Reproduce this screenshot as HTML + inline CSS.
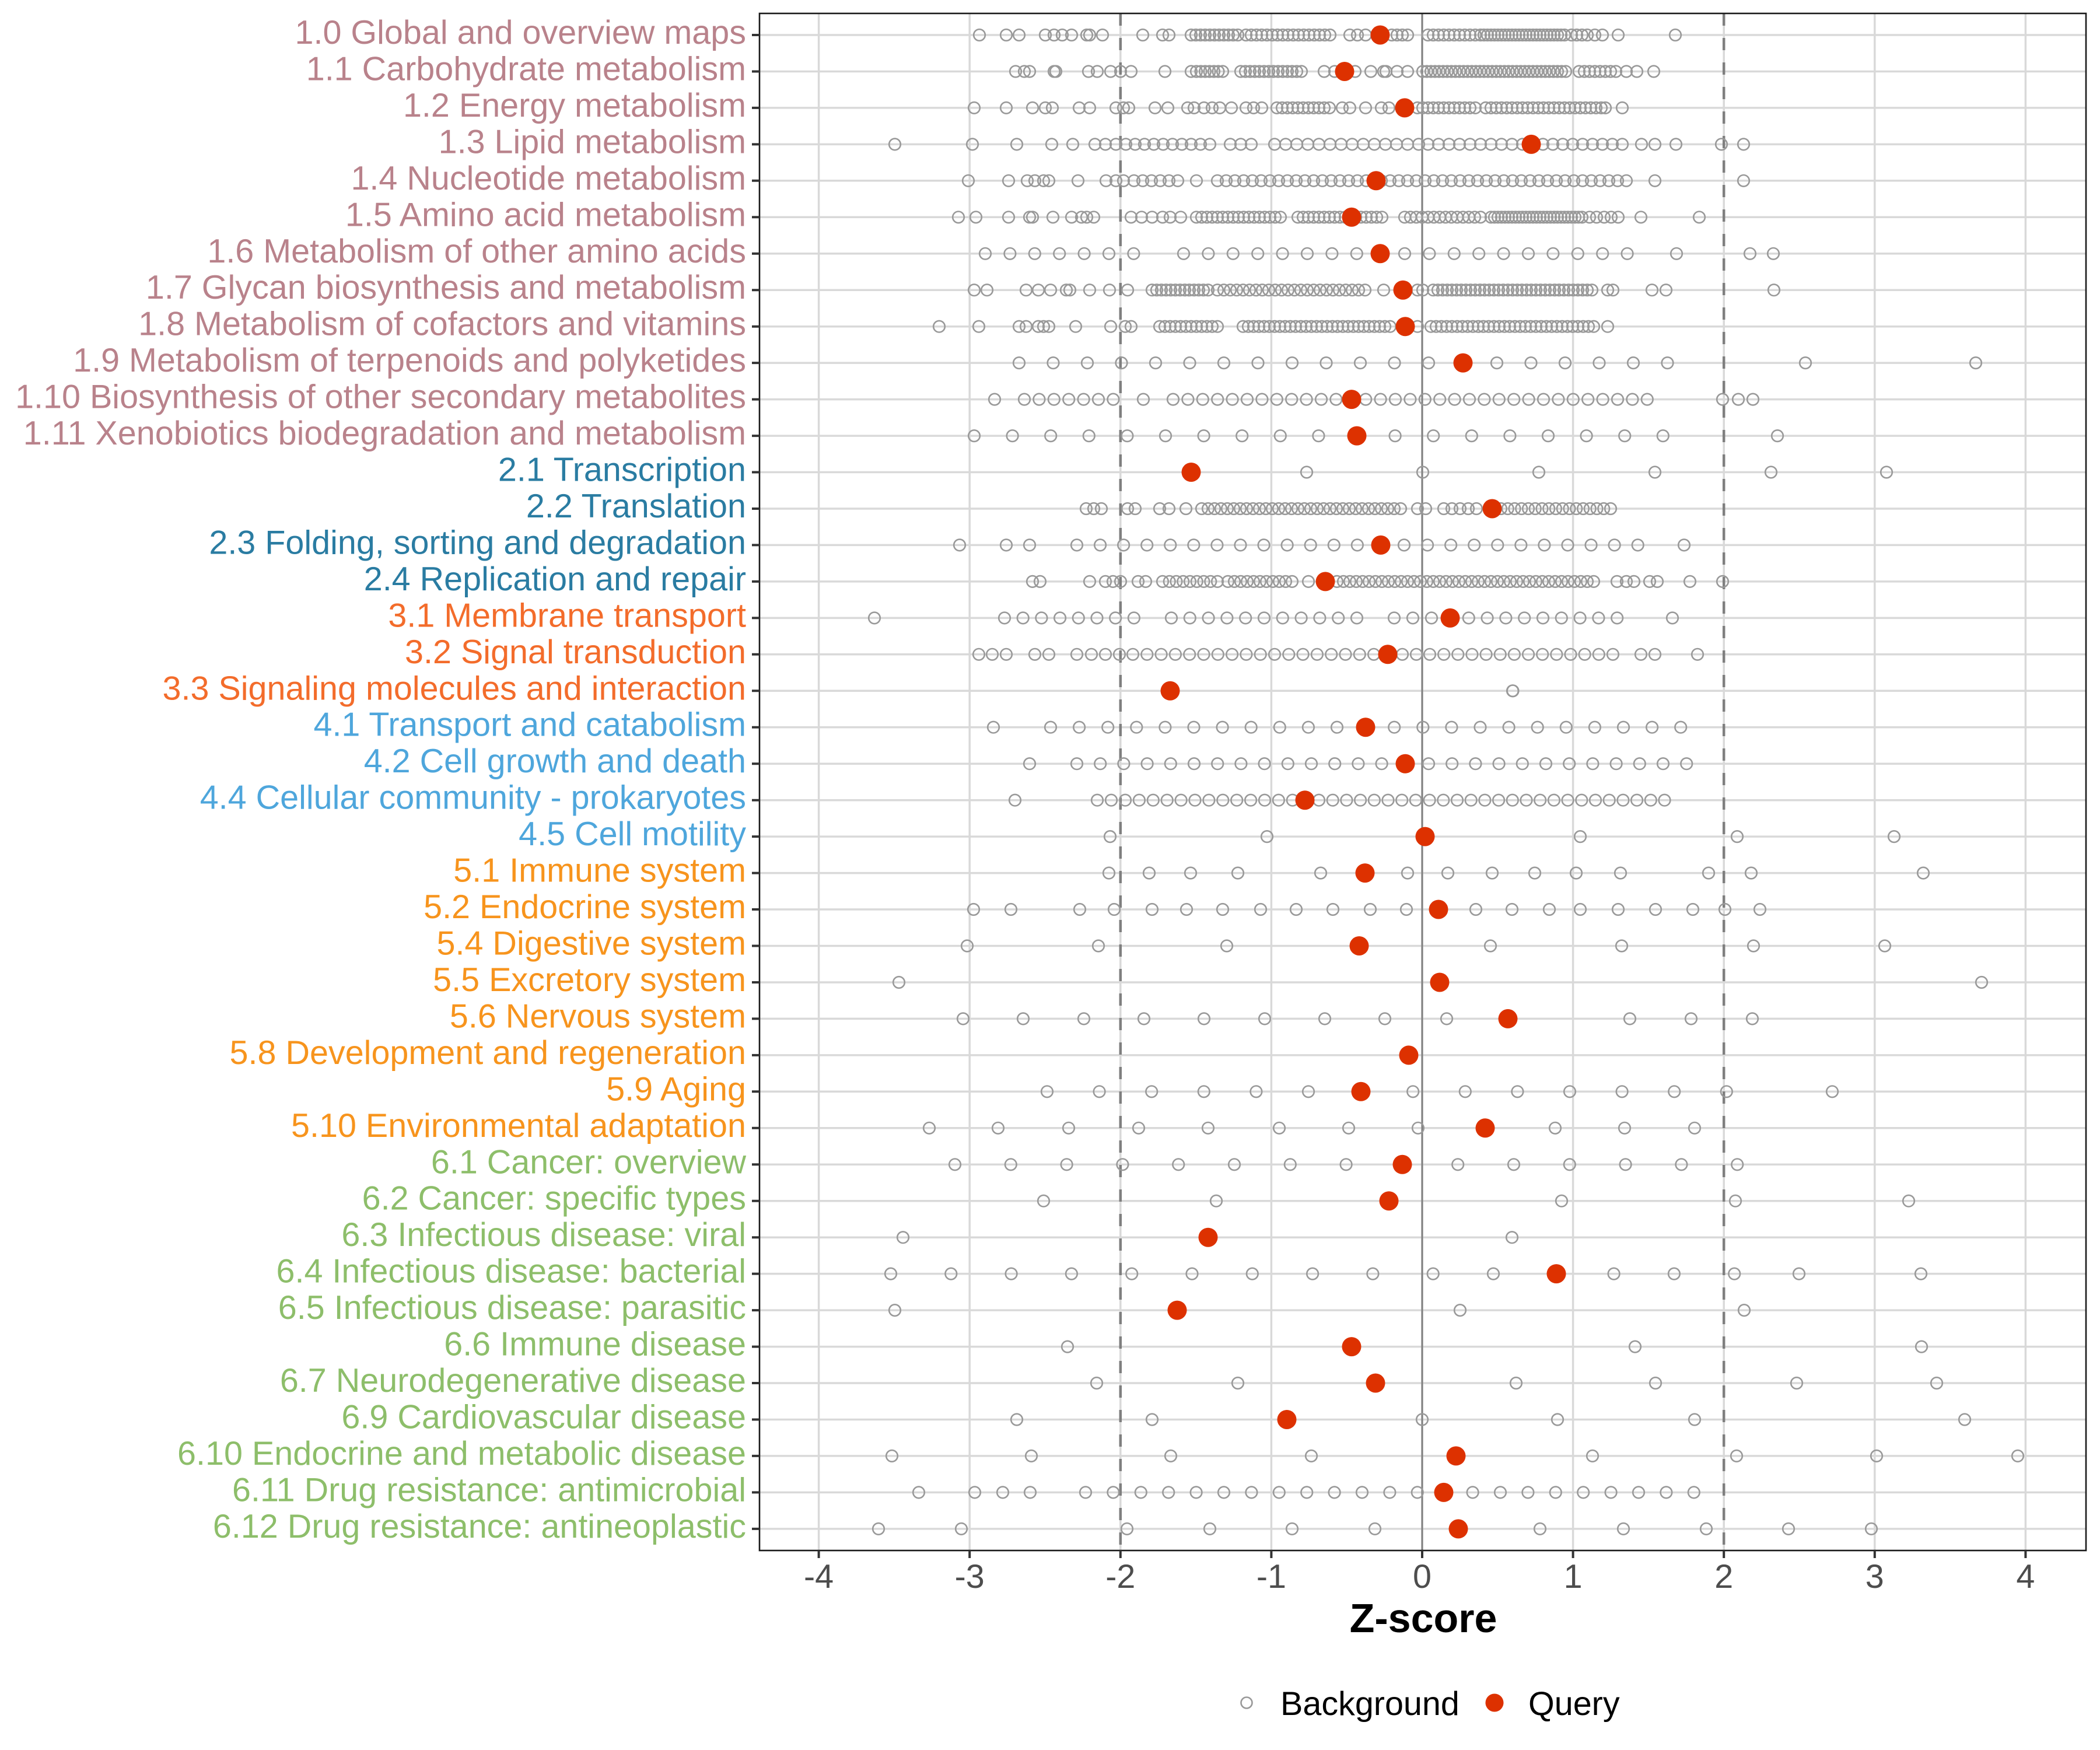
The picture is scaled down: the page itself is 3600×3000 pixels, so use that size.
<!DOCTYPE html>
<html>
<head>
<meta charset="utf-8">
<style>
html,body{margin:0;padding:0;background:#fff;}
body{width:3600px;height:3000px;overflow:hidden;}
svg{display:block;}
.yl{font-family:"Liberation Sans",Arial,sans-serif;font-size:57.5px;text-anchor:end;}
.xl{font-family:"Liberation Sans",Arial,sans-serif;font-size:57.5px;text-anchor:middle;fill:#4d4d4d;}
.g1{fill:#b9828b}.g2{fill:#2a7ca2}.g3{fill:#f36c2b}.g4{fill:#4ea6dc}.g5{fill:#f7941d}.g6{fill:#8dbe6a}
</style>
</head>
<body>
<svg width="3600" height="3000" viewBox="0 0 3600 3000" xmlns="http://www.w3.org/2000/svg">
<defs>
<marker id="o" viewBox="0 0 30 30" refX="15" refY="15" markerWidth="30" markerHeight="30" markerUnits="userSpaceOnUse" orient="0"><circle cx="15" cy="15" r="9.8" fill="none" stroke="#999999" stroke-width="2.6"/></marker>
</defs>
<rect x="0" y="0" width="3600" height="3000" fill="#fff"/>
<!-- horizontal gridlines -->
<path fill="none" stroke="#d9d9d9" stroke-width="3.5" d="M1302 60H3576M1302 122.5H3576M1302 184.9H3576M1302 247.4H3576M1302 309.8H3576M1302 372.3H3576M1302 434.8H3576M1302 497.2H3576M1302 559.7H3576M1302 622.1H3576M1302 684.6H3576M1302 747.1H3576M1302 809.5H3576M1302 872H3576M1302 934.4H3576M1302 996.9H3576M1302 1059.4H3576M1302 1121.8H3576M1302 1184.3H3576M1302 1246.7H3576M1302 1309.2H3576M1302 1371.7H3576M1302 1434.1H3576M1302 1496.6H3576M1302 1559H3576M1302 1621.5H3576M1302 1684H3576M1302 1746.4H3576M1302 1808.9H3576M1302 1871.3H3576M1302 1933.8H3576M1302 1996.3H3576M1302 2058.7H3576M1302 2121.2H3576M1302 2183.6H3576M1302 2246.1H3576M1302 2308.6H3576M1302 2371H3576M1302 2433.5H3576M1302 2495.9H3576M1302 2558.4H3576M1302 2620.9H3576"/>
<!-- vertical gridlines -->
<path fill="none" stroke="#d9d9d9" stroke-width="3.5" d="M1403.6 23V2658M1662.2 23V2658M1920.8 23V2658M2179.4 23V2658M2438 23V2658M2696.6 23V2658M2955.2 23V2658M3213.8 23V2658M3472.4 23V2658"/>
<!-- dashed lines -->
<path fill="none" stroke="#7f7f7f" stroke-width="4.5" stroke-dasharray="21 21" d="M1920.8 23V2658M2955.2 23V2658"/>
<!-- zero line -->
<path fill="none" stroke="#7f7f7f" stroke-width="3" d="M2438 23V2658"/>

<!-- background points -->
<g fill="none" stroke="none" marker-start="url(#o)" marker-mid="url(#o)" marker-end="url(#o)">
<path d="M1679 60H1725H1747H1792H1807H1821H1837H1863H1868H1890H1959H1993H2004H2042h8h8h8h8h8h8h8h8h8h8H2136h9h9h9h9h9h9h9h9h9h9h9h9h9h9h9h9H2314H2327H2341H2366H2386H2395H2404H2413H2448h9h9h9h9h9h9h9h9h9h9h6h6h6h6h6h6h6h6h6h6h6h6h6h6h6h6h6h6h6h6h6h6h6h6H2694H2703H2712H2721H2734H2747H2774H2872"/>
<path d="M1741 122.5H1756H1765H1807H1810H1866H1881H1904H1921H1939H1997H2042H2051h7.5h7.5h7.5h7.5h7.5h7.5H2127h8h8h8h8h8h8h8h8h8h8h8h8h8H2270H2288H2305H2323H2350H2372H2376H2395H2413H2439h7h7h7h7h7h7h7h7h7h7h7h7h7h7h7h7h7h7h7h7h7h7h7h7h7h7h7h7h7h7h7h7h7h7h7H2707h9h9h9h9h9h9h9H2788H2806H2835"/>
<path d="M1670 184.9H1725H1770H1792H1804H1850H1868H1913H1926H1935H1980H2002H2036H2047H2064H2078H2091H2111H2136H2149H2163H2189h9h9h9h9h9h9h9h9h9h9H2301H2314H2341H2368H2381H2408H2430h9h9h9h9h9h9h9h9h9h9h9H2547h9h9h9h9h9h9h9h9h9h9h9h9h9h9h9h9h9h9h9h9h9h9H2752H2781"/>
<path d="M1534 247.4H1667H1743H1803H1839H1877H1895H1913H1930h16h16h16h16h16h16h16h16h16H2109H2127H2145H2185h19h19h19h19h19h19h19h19h19h19h19h19h19H2448h18h18h18h18h18h18h18h18h18H2625H2645h17h17h17h17h17h17h17h17H2814H2837H2873H2951H2989"/>
<path d="M1660 309.8H1729H1761H1774H1789H1798H1848H1896H1913H1926H1944h15h15h15h15h15H2051H2087h15h15h15h15h15h15h15h15h15h15h15h15h15h15h15h15h15H2359H2368h15h15h15h15h15h15h15h15h15h15h15h15h15h15h15h15h15h15h15h15h15h15h15h15h15h15h15h15H2837H2989"/>
<path d="M1643 372.3H1673H1729H1765H1770H1805H1837H1854H1863H1875H1939H1957H1975H1993H2006H2024H2051h9h9h9h9h9h9h9h9h9h9h9h9h9h9h9h9H2225h9h9h9h9h9h9h9h9h9h9h9h9h9h9h9h9H2408h10h10h10h10h10h10h10h10h10h10h10h10h10H2556h6h6h6h6h6h6h6h6h6h6h6h6h6h6h6h6h6h6h6h6h6h6h6h6h6h6H2725H2737H2750H2762H2774H2813H2913"/>
<path d="M1689 434.8h42.4h42.4h42.4h42.4h42.4h42.4H2029h42.4h42.4h42.4h42.4h42.4h42.4h42.4H2366H2408h42.4h42.4h42.4h42.4h42.4h42.4h42.4h42.4h42.4H2874H3000H3040"/>
<path d="M1670 497.2H1692H1759H1780H1801H1828H1834H1868H1902H1933H1975h8h8h8h8h8h8h8h8h8h8h8h8H2087h11h11h11h11h11h11h11h11h11h11h11h11h11h11h11h11h11h11h11h11h11h11h11H2372H2405H2430H2439H2457h8h8h8h8h8h8h8h8h8h8h8h8h8h8h8h8h8h8h8h8h8h8h8h8h8h8h8h8h8h8h8h8h8h8H2756H2765H2832H2856H3041"/>
<path d="M1610 559.7H1678H1747H1759H1780H1789H1798H1844H1904H1929H1939H1988h9h9h9h9h9h9h9h9h9h9h9H2131h9h9h9h9h9h9h9h9h9h9h9h9h9h9h9h9h9h9h9h9h9h9h9h9h9h9h9h9H2409H2430H2453h9h9h9h9h9h9h9h9h9h9h9h9h9h9h9h9h9h9h9h9h9h9h9h9h9h9h9h9h9h9h9H2756"/>
<path d="M1747 622.1h58.5h58.5h58.5h58.5h58.5h58.5h58.5h58.5h58.5h58.5h58.5h58.5h58.5h58.5h58.5h58.5h58.5h58.5h58.5H3095H3387"/>
<path d="M1705 684.6H1756h25.4h25.4h25.4h25.4h25.4h25.4H1960H2011h25.4h25.4h25.4h25.4h25.4h25.4h25.4h25.4h25.4h25.4h25.4h25.4h25.4h25.4h25.4h25.4h25.4h25.4h25.4h25.4h25.4h25.4h25.4h25.4h25.4h25.4h25.4h25.4h25.4h25.4h25.4h25.4H2953H2980H3005"/>
<path d="M1670 747.1h65.6h65.6h65.6h65.6h65.6h65.6h65.6h65.6h65.6h65.6h65.6h65.6h65.6h65.6h65.6h65.6h65.6h65.6H3047"/>
<path d="M2240 809.5H2439H2638H2837H3036H3234"/>
<path d="M1862 872H1875H1888H1933H1946H1988H2004H2033H2060h11h11h11h11h11h11h11h11h11h11h11h11h11h11h11h11h11h11h11h11h11h11h11h11h11h11h11h11h11h11h11H2430H2444H2475H2489H2503H2517H2531H2558H2573h11.75h11.75h11.75h11.75h11.75h11.75h11.75h11.75h11.75h11.75h11.75h11.75h11.75h11.75h11.75h11.75"/>
<path d="M1645 934.4H1725H1765H1846h40.07h40.07h40.07h40.07h40.07h40.07h40.07h40.07h40.07h40.07h40.07h40.07h40.07h40.07h40.07h40.07h40.07h40.07h40.07h40.07h40.07h40.07h40.07h40.07H2887"/>
<path d="M1770 996.9H1783H1868H1895H1908H1921H1951H1964H1993h11.75h11.75h11.75h11.75h11.75h11.75h11.75h11.75H2105h11h11h11h11h11h11h11h11h11h11H2243H2272H2292h11h11h11h11h11h11h11h11h11h11h11h11h11h11h11h11h11h11h11h11h11h11h11h11h11h11h11h11h11h11h11h11h11h11h11h11h11h11h11h11H2772H2788H2801H2828H2841H2897H2953"/>
<path d="M1499 1059.4H1722h31.7h31.7h31.7h31.7h31.7h31.7h31.7H2008h31.8h31.8h31.8h31.8h31.8h31.8h31.8h31.8h31.8h31.8H2390h32h32h32h31.8h31.8h31.8h31.8h31.8h31.8h31.8h31.8h31.8H2867"/>
<path d="M1678 1121.8H1701H1725H1774H1798H1846H1871H1895H1919H1942h24.3h24.3h24.3h24.3h24.3h24.3h24.3h24.3h24.3h24.3h24.3h24.3h24.3h24.3h24.3h24.3h24.3h24.3H2404H2428H2451h24.15h24.15h24.15h24.15h24.15h24.15h24.15h24.15h24.15h24.15h24.15h24.15h24.15H2813H2837H2910"/>
<path d="M2593 1184.3H2593.5"/>
<path d="M1703 1246.7H1801h49.1h49.1h49.1h49.1h49.1h49.1h49.1h49.1h49.1h49.1h49.1h49.1h49.1h49.1h49.1h49.1h49.1h49.1h49.1h49.1h49.1h49.1"/>
<path d="M1765 1309.2H1846h40.2h40.2h40.2h40.2h40.2h40.2h40.2h40.2h40.2h40.2h40.2h40.2h40.2h40.2h40.2h40.2h40.2h40.2h40.2h40.2h40.2h40.2h40.2h40.2h40.2h40.2"/>
<path d="M1740 1371.7H1881H1905H1929h23.9h23.9h23.9h23.9h23.9h23.9h23.9h23.9h23.9h23.9h23.9h23.9H2237H2261h23.7h23.7h23.7h23.7h23.7h23.7h23.7h23.7h23.7h23.7h23.7h23.7h23.7h23.7h23.7h23.7h23.7h23.7h23.7h23.7h23.7h23.7h23.7h23.7h23.7"/>
<path d="M1903 1434.1H2172H2440H2709H2978H3247"/>
<path d="M1901 1496.6H1970H2041H2122H2264H2340H2413H2482H2558H2631H2702H2778H2929H3002H3297"/>
<path d="M1669 1559H1733H1851H1910H1975H2034H2096H2161H2222H2285H2349H2411H2466H2530H2592H2656H2709H2774H2838H2902H2957H3017"/>
<path d="M1658 1621.5H1883H2103H2330H2555H2780H3006H3231"/>
<path d="M1541 1684H3397"/>
<path d="M1651 1746.4H1754H1858H1961H2064H2168H2271H2374H2480H2585H2794H2899H3004"/>
<path d="M2415 1808.9H2415.5"/>
<path d="M1795 1871.3h89.6h89.6h89.6h89.6h89.6h89.6h89.6h89.6h89.6h89.6h89.6h89.6h89.6H3141"/>
<path d="M1593 1933.8H1711H1832H1952H2071H2193H2312H2431H2550H2666H2785H2905"/>
<path d="M1637 1996.3h95.8h95.8h95.8h95.8h95.8h95.8h95.8h95.8h95.8h95.8h95.8h95.8h95.8h95.8"/>
<path d="M1789 2058.7H2085H2381H2677H2975H3272"/>
<path d="M1548 2121.2H2071H2592"/>
<path d="M1527 2183.6h103.3h103.3h103.3h103.3h103.3h103.3h103.3h103.3h103.3h103.3h103.3h103.3h103.3h103.3H3084H3293"/>
<path d="M1534 2246.1H2018H2503H2990"/>
<path d="M1830 2308.6H2317H2803H3294"/>
<path d="M1880 2371H2122H2358H2599H2838H3080H3320"/>
<path d="M1743 2433.5H1975H2206H2438H2670H2905H3368"/>
<path d="M1529 2495.9H1768H2007H2248H2496H2730H2977H3217H3459"/>
<path d="M1575 2558.4H1671H1719H1766H1861h47.4h47.4h47.4h47.4h47.4h47.4h47.4h47.4h47.4h47.4h47.4h47.4h47.4h47.4h47.4h47.4h47.4h47.4h47.4h47.4h47.4h47.4"/>
<path d="M1506 2620.9H1648H1932H2074H2215H2357H2500H2640H2783H2925H3066H3208"/>
</g>

<!-- query points -->
<g fill="#dd3100">
<circle cx="2366" cy="60" r="16.5"/>
<circle cx="2305" cy="122.5" r="16.5"/>
<circle cx="2408" cy="184.9" r="16.5"/>
<circle cx="2625" cy="247.4" r="16.5"/>
<circle cx="2359" cy="309.8" r="16.5"/>
<circle cx="2317" cy="372.3" r="16.5"/>
<circle cx="2366" cy="434.8" r="16.5"/>
<circle cx="2405" cy="497.2" r="16.5"/>
<circle cx="2409" cy="559.7" r="16.5"/>
<circle cx="2508" cy="622.1" r="16.5"/>
<circle cx="2317" cy="684.6" r="16.5"/>
<circle cx="2326" cy="747.1" r="16.5"/>
<circle cx="2042" cy="809.5" r="16.5"/>
<circle cx="2558" cy="872" r="16.5"/>
<circle cx="2367" cy="934.4" r="16.5"/>
<circle cx="2272" cy="996.9" r="16.5"/>
<circle cx="2486" cy="1059.4" r="16.5"/>
<circle cx="2379" cy="1121.8" r="16.5"/>
<circle cx="2006" cy="1184.3" r="16.5"/>
<circle cx="2341" cy="1246.7" r="16.5"/>
<circle cx="2409" cy="1309.2" r="16.5"/>
<circle cx="2237" cy="1371.7" r="16.5"/>
<circle cx="2443" cy="1434.1" r="16.5"/>
<circle cx="2340" cy="1496.6" r="16.5"/>
<circle cx="2466" cy="1559" r="16.5"/>
<circle cx="2330" cy="1621.5" r="16.5"/>
<circle cx="2468" cy="1684" r="16.5"/>
<circle cx="2585" cy="1746.4" r="16.5"/>
<circle cx="2415" cy="1808.9" r="16.5"/>
<circle cx="2333" cy="1871.3" r="16.5"/>
<circle cx="2546" cy="1933.8" r="16.5"/>
<circle cx="2404" cy="1996.3" r="16.5"/>
<circle cx="2381" cy="2058.7" r="16.5"/>
<circle cx="2071" cy="2121.2" r="16.5"/>
<circle cx="2668" cy="2183.6" r="16.5"/>
<circle cx="2018" cy="2246.1" r="16.5"/>
<circle cx="2317" cy="2308.6" r="16.5"/>
<circle cx="2358" cy="2371" r="16.5"/>
<circle cx="2206" cy="2433.5" r="16.5"/>
<circle cx="2496" cy="2495.9" r="16.5"/>
<circle cx="2475" cy="2558.4" r="16.5"/>
<circle cx="2500" cy="2620.9" r="16.5"/>
</g>

<!-- panel border -->
<rect x="1302" y="23" width="2274" height="2635" fill="none" stroke="#1a1a1a" stroke-width="2.6"/>

<!-- y ticks -->
<path fill="none" stroke="#333333" stroke-width="4" d="M1289 60H1302M1289 122.5H1302M1289 184.9H1302M1289 247.4H1302M1289 309.8H1302M1289 372.3H1302M1289 434.8H1302M1289 497.2H1302M1289 559.7H1302M1289 622.1H1302M1289 684.6H1302M1289 747.1H1302M1289 809.5H1302M1289 872H1302M1289 934.4H1302M1289 996.9H1302M1289 1059.4H1302M1289 1121.8H1302M1289 1184.3H1302M1289 1246.7H1302M1289 1309.2H1302M1289 1371.7H1302M1289 1434.1H1302M1289 1496.6H1302M1289 1559H1302M1289 1621.5H1302M1289 1684H1302M1289 1746.4H1302M1289 1808.9H1302M1289 1871.3H1302M1289 1933.8H1302M1289 1996.3H1302M1289 2058.7H1302M1289 2121.2H1302M1289 2183.6H1302M1289 2246.1H1302M1289 2308.6H1302M1289 2371H1302M1289 2433.5H1302M1289 2495.9H1302M1289 2558.4H1302M1289 2620.9H1302"/>
<!-- x ticks -->
<path fill="none" stroke="#333333" stroke-width="4" d="M1403.6 2658V2671M1662.2 2658V2671M1920.8 2658V2671M2179.4 2658V2671M2438 2658V2671M2696.6 2658V2671M2955.2 2658V2671M3213.8 2658V2671M3472.4 2658V2671"/>

<!-- y labels -->
<g class="yl">
<text class="g1" x="1279" y="75">1.0 Global and overview maps</text>
<text class="g1" x="1279" y="137.5">1.1 Carbohydrate metabolism</text>
<text class="g1" x="1279" y="199.9">1.2 Energy metabolism</text>
<text class="g1" x="1279" y="262.4">1.3 Lipid metabolism</text>
<text class="g1" x="1279" y="324.8">1.4 Nucleotide metabolism</text>
<text class="g1" x="1279" y="387.3">1.5 Amino acid metabolism</text>
<text class="g1" x="1279" y="449.8">1.6 Metabolism of other amino acids</text>
<text class="g1" x="1279" y="512.2">1.7 Glycan biosynthesis and metabolism</text>
<text class="g1" x="1279" y="574.7">1.8 Metabolism of cofactors and vitamins</text>
<text class="g1" x="1279" y="637.1">1.9 Metabolism of terpenoids and polyketides</text>
<text class="g1" x="1279" y="699.6">1.10 Biosynthesis of other secondary metabolites</text>
<text class="g1" x="1279" y="762.1">1.11 Xenobiotics biodegradation and metabolism</text>
<text class="g2" x="1279" y="824.5">2.1 Transcription</text>
<text class="g2" x="1279" y="887">2.2 Translation</text>
<text class="g2" x="1279" y="949.4">2.3 Folding, sorting and degradation</text>
<text class="g2" x="1279" y="1011.9">2.4 Replication and repair</text>
<text class="g3" x="1279" y="1074.4">3.1 Membrane transport</text>
<text class="g3" x="1279" y="1136.8">3.2 Signal transduction</text>
<text class="g3" x="1279" y="1199.3">3.3 Signaling molecules and interaction</text>
<text class="g4" x="1279" y="1261.7">4.1 Transport and catabolism</text>
<text class="g4" x="1279" y="1324.2">4.2 Cell growth and death</text>
<text class="g4" x="1279" y="1386.7">4.4 Cellular community - prokaryotes</text>
<text class="g4" x="1279" y="1449.1">4.5 Cell motility</text>
<text class="g5" x="1279" y="1511.6">5.1 Immune system</text>
<text class="g5" x="1279" y="1574">5.2 Endocrine system</text>
<text class="g5" x="1279" y="1636.5">5.4 Digestive system</text>
<text class="g5" x="1279" y="1699">5.5 Excretory system</text>
<text class="g5" x="1279" y="1761.4">5.6 Nervous system</text>
<text class="g5" x="1279" y="1823.9">5.8 Development and regeneration</text>
<text class="g5" x="1279" y="1886.3">5.9 Aging</text>
<text class="g5" x="1279" y="1948.8">5.10 Environmental adaptation</text>
<text class="g6" x="1279" y="2011.3">6.1 Cancer: overview</text>
<text class="g6" x="1279" y="2073.7">6.2 Cancer: specific types</text>
<text class="g6" x="1279" y="2136.2">6.3 Infectious disease: viral</text>
<text class="g6" x="1279" y="2198.6">6.4 Infectious disease: bacterial</text>
<text class="g6" x="1279" y="2261.1">6.5 Infectious disease: parasitic</text>
<text class="g6" x="1279" y="2323.6">6.6 Immune disease</text>
<text class="g6" x="1279" y="2386">6.7 Neurodegenerative disease</text>
<text class="g6" x="1279" y="2448.5">6.9 Cardiovascular disease</text>
<text class="g6" x="1279" y="2510.9">6.10 Endocrine and metabolic disease</text>
<text class="g6" x="1279" y="2573.4">6.11 Drug resistance: antimicrobial</text>
<text class="g6" x="1279" y="2635.9">6.12 Drug resistance: antineoplastic</text>
</g>

<!-- x tick labels -->
<g class="xl">
<text x="1403.6" y="2722">-4</text>
<text x="1662.2" y="2722">-3</text>
<text x="1920.8" y="2722">-2</text>
<text x="2179.4" y="2722">-1</text>
<text x="2438" y="2722">0</text>
<text x="2696.6" y="2722">1</text>
<text x="2955.2" y="2722">2</text>
<text x="3213.8" y="2722">3</text>
<text x="3472.4" y="2722">4</text>
</g>

<!-- x axis title -->
<text x="2440" y="2798" font-family="'Liberation Sans',Arial,sans-serif" font-size="70" font-weight="bold" text-anchor="middle" fill="#000">Z-score</text>

<!-- legend -->
<circle cx="2137" cy="2919" r="9.5" fill="none" stroke="#999999" stroke-width="2.6"/>
<text x="2195" y="2940" font-family="'Liberation Sans',Arial,sans-serif" font-size="57.5" fill="#000">Background</text>
<circle cx="2562" cy="2919" r="15.5" fill="#dd3100"/>
<text x="2620" y="2940" font-family="'Liberation Sans',Arial,sans-serif" font-size="57.5" fill="#000">Query</text>
</svg>
</body>
</html>
